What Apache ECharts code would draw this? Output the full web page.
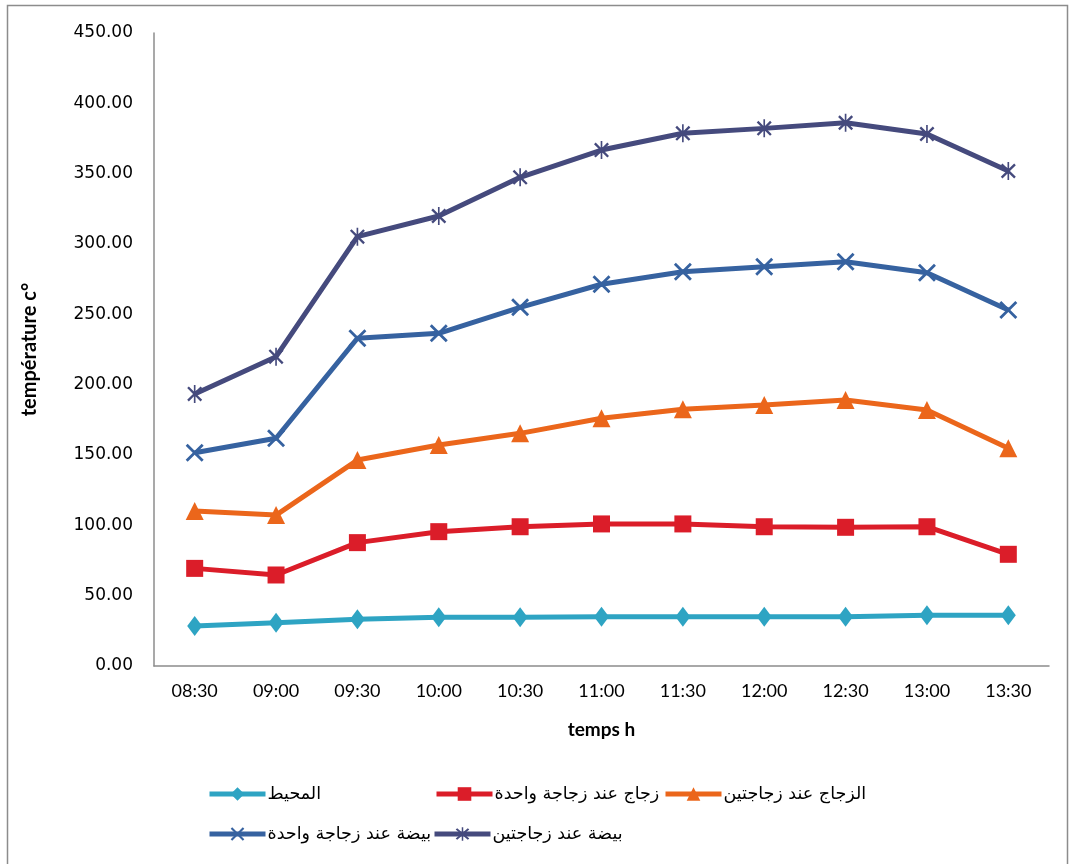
<!DOCTYPE html>
<html>
<head>
<meta charset="utf-8">
<script src="https://cdn.jsdelivr.net/npm/echarts@6/dist/echarts.min.js"></script>
<style>
  html, body { margin: 0; padding: 0; background: #fff; }
  #chart { width: 1070px; height: 864px; }
</style>
</head>
<body>
<div id="chart"></div>
<script>
// Time of measurement (x axis)
const times = ['08:30', '09:00', '09:30', '10:00', '10:30', '11:00', '11:30', '12:00', '12:30', '13:00', '13:30'];

// Series names
const seriesNames = [
  'المحيط',
  'زجاج عند زجاجة واحدة',
  'الزجاج عند زجاجتين',
  'بيضة عند زجاجة واحدة',
  'بيضة عند زجاجتين'
];

// Temperatures (°C)
const ambient      = [28.4, 30.8, 33.2, 34.6, 34.6, 35.1, 35.1, 35.1, 35.1, 36.0, 36.0];
const glassOne     = [69.4, 64.7, 87.7, 95.5, 99.0, 101.0, 101.0, 99.0, 98.6, 99.0, 79.4];
const glassTwo     = [110.2, 107.3, 146.4, 157.1, 165.4, 176.1, 182.5, 185.5, 189.1, 182.0, 154.8];
const eggOne       = [151.6, 161.9, 233.0, 236.5, 255.0, 271.4, 280.3, 283.9, 287.4, 279.6, 253.1];
const eggTwo       = [193.4, 219.9, 305.2, 319.9, 347.4, 366.8, 378.7, 382.2, 386.2, 378.2, 351.9];

const colors = ['#2EA4C3', '#DB1D29', '#EB661B', '#3662A0', '#454A7D'];

// Thin "X" and asterisk markers as filled outlines
const crossPath = 'path://M0,1.1 L1.1,0 L5,3.9 L8.9,0 L10,1.1 L6.1,5 L10,8.9 L8.9,10 L5,6.1 L1.1,10 L0,8.9 L3.9,5 Z';
const starPath = 'path://M0,1.1 L1.1,0 L5,3.9 L8.9,0 L10,1.1 L6.1,5 L10,8.9 L8.9,10 L5,6.1 L1.1,10 L0,8.9 L3.9,5 Z M4.45,-1 L5.55,-1 L5.55,11 L4.45,11 Z';

const symbols = ['diamond', 'rect', 'triangle', crossPath, starPath];
const symbolSizes = [[15, 20], 17, 18, 18, 18];
const dataSets = [ambient, glassOne, glassTwo, eggOne, eggTwo];

const arabicFont = '"DejaVu Sans", sans-serif';
const latinFont = 'Lato, "Liberation Sans", sans-serif';

const series = dataSets.map((d, i) => ({
  name: seriesNames[i],
  type: 'line',
  data: d,
  symbol: symbols[i],
  symbolSize: symbolSizes[i],
  symbolKeepAspect: true,
  showAllSymbol: true,
  lineStyle: { width: 5, color: colors[i] },
  itemStyle: { color: colors[i], borderWidth: 0 },
  emphasis: { disabled: true },
  z: 2 + i
}));

// Legend entries placed in two rows
const legendPos = [
  { left: 207, top: 785 },
  { left: 434, top: 785 },
  { left: 663, top: 785 },
  { left: 207, top: 825 },
  { left: 432, top: 825 }
];
const legends = legendPos.map((p, i) => ({
  data: [seriesNames[i]],
  left: p.left,
  top: p.top,
  padding: 0,
  itemWidth: 56,
  itemHeight: 17,
  itemGap: 0,
  selectedMode: false,
  lineStyle: { width: 5 },
  textStyle: { fontSize: 17.5, color: '#000', fontFamily: arabicFont, padding: [0, 0, 0, -3] }
}));

const chart = echarts.init(document.getElementById('chart'), null, { renderer: 'canvas' });
chart.setOption({
  animation: false,
  backgroundColor: '#fff',
  color: colors,
  grid: { left: 154, right: 21, top: 33, bottom: 198 },
  graphic: [{
    type: 'rect',
    shape: { x: 7.5, y: 5.5, width: 1060, height: 870 },
    style: { fill: 'none', stroke: '#8c8c8c', lineWidth: 1.5 },
    silent: true
  }],
  legend: legends,
  xAxis: {
    type: 'category',
    data: times,
    boundaryGap: true,
    axisLine: { lineStyle: { color: '#8c8c8c', width: 1.5 } },
    axisTick: { show: false },
    axisLabel: { fontSize: 18, color: '#000', margin: 16, fontFamily: latinFont },
    name: 'temps h',
    nameLocation: 'middle',
    nameGap: 54,
    nameTextStyle: { fontSize: 19, fontWeight: 'bold', color: '#000', fontFamily: latinFont }
  },
  yAxis: {
    type: 'value',
    min: 0,
    max: 450,
    interval: 50,
    axisLine: { show: true, lineStyle: { color: '#8c8c8c', width: 1.5 } },
    axisTick: { show: false },
    splitLine: { show: false },
    axisLabel: {
      fontSize: 17, color: '#000', margin: 21, fontFamily: '"DejaVu Sans", sans-serif',
      formatter: v => v.toFixed(2)
    },
    name: 'température c°',
    nameLocation: 'middle',
    nameGap: 114,
    nameRotate: 90,
    nameTextStyle: { fontSize: 20, fontWeight: 'bold', color: '#000', fontFamily: latinFont }
  },
  series: series
});
</script>
</body>
</html>
